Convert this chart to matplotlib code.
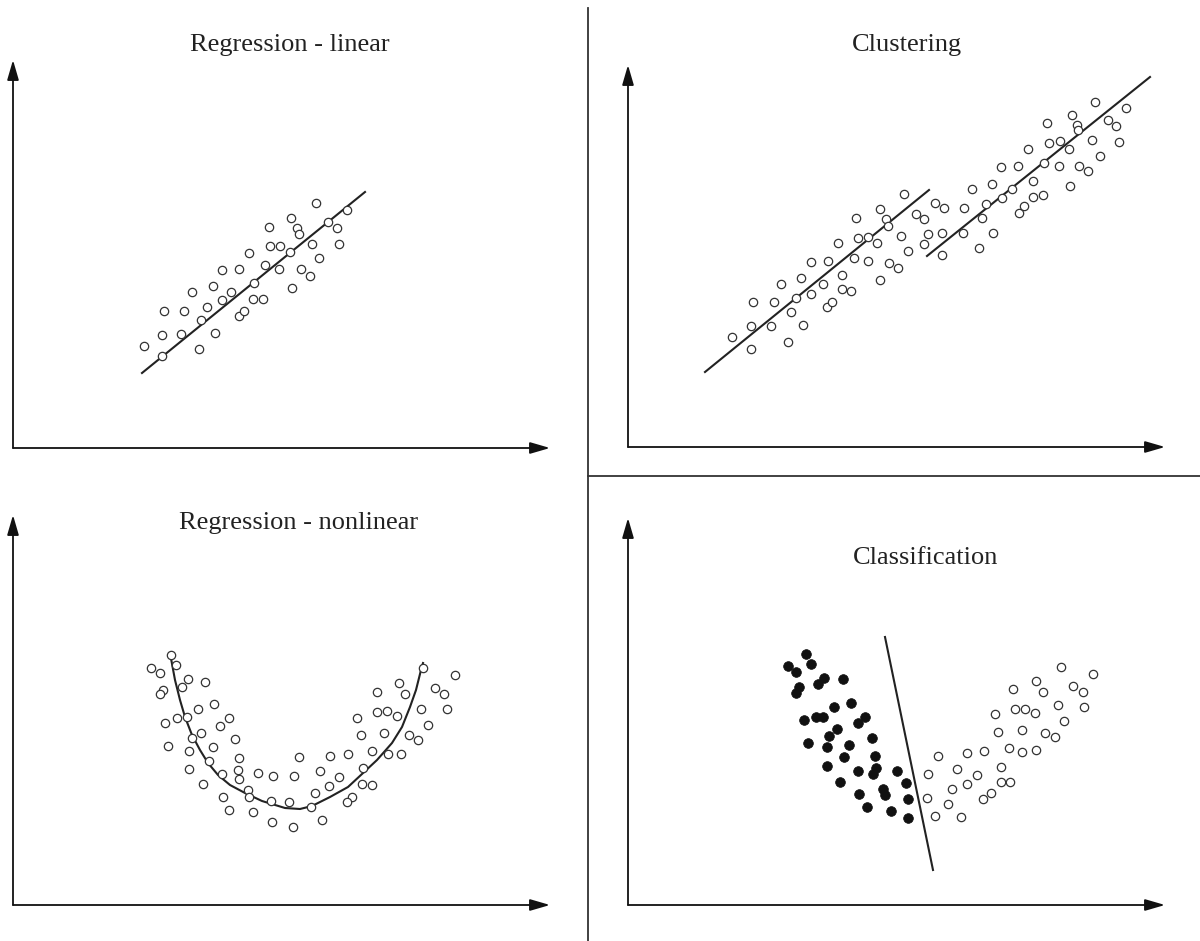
import numpy as np
import matplotlib
matplotlib.use("Agg")
import matplotlib.pyplot as plt
from matplotlib.lines import Line2D

plt.rcParams['font.family'] = ['Liberation Serif', 'DejaVu Serif']

# --- Regression - linear ---
lin_x = [131, 149, 149, 168, 151, 171, 179, 186, 188, 194, 200, 202, 209, 209, 218, 226, 226, 231, 236, 241, 240,
         250, 252, 256, 257, 267, 266, 277, 278, 279, 284, 286, 288, 297, 299, 303, 306, 315, 324, 326, 334]
lin_y = [102, 92, 113, 114, 137, 137, 156, 99, 128, 141, 162, 115, 178, 148, 156, 179, 132, 137, 195, 165, 149,
         149, 183, 221, 202, 202, 179, 196, 230, 160, 220, 214, 179, 172, 204, 245, 190, 226, 220, 204, 238]
lin_fit_x = [129, 352]
lin_fit_y = [75, 256]

# --- Clustering ---
clA_x = [104, 123, 123, 125, 143, 146, 153, 160, 163, 168, 173, 175, 183, 183, 195, 199, 204, 200, 210, 214, 214,
         223, 226, 228, 230, 240, 240, 249, 252, 252, 258, 260, 261, 270, 273, 276, 280, 288, 296, 296, 300, 307]
clA_y = [110, 98, 121, 145, 121, 145, 163, 105, 135, 149, 169, 122, 185, 153, 163, 140, 145, 186, 204, 158, 172,
         156, 189, 229, 209, 186, 210, 204, 167, 238, 228, 221, 184, 179, 211, 253, 196, 233, 228, 203, 213, 244]
clB_x = [316, 314, 314, 335, 336, 344, 351, 354, 358, 364, 365, 373, 374, 384, 390, 391, 396, 400, 405, 405,
         415, 416, 419, 421, 431, 432, 441, 442, 444, 449, 450, 451, 460, 464, 467, 472, 480, 488, 491, 498]
clB_y = [239, 214, 192, 214, 239, 258, 199, 229, 243, 263, 214, 280, 249, 258, 281, 234, 241, 298, 266, 250,
         252, 284, 324, 304, 281, 306, 298, 261, 332, 322, 317, 281, 276, 307, 345, 291, 327, 321, 305, 339]
clA_fit_x = [77, 301]
clA_fit_y = [75, 257]
clB_fit_x = [299, 522]
clB_fit_y = [191, 370]

# --- Regression - nonlinear ---
nl_x = [158, 163, 138, 147, 175, 192, 169, 150, 147, 201, 185, 216, 164, 174, 152, 207, 188, 179, 222, 155, 200,
        176, 226, 196, 286, 176, 225, 245, 260, 281, 209, 226, 190, 235, 236, 210, 258, 276, 216, 240, 259, 280,
        410, 442, 386, 422, 431, 364, 392, 408, 434, 364, 374, 384, 344, 415, 371, 348, 396, 405, 359, 375, 388,
        335, 317, 350, 307, 326, 316, 349, 359, 302, 339, 334, 298, 309]
nl_y = [250, 240, 237, 232, 226, 223, 218, 215, 211, 201, 196, 187, 187, 188, 182, 179, 172, 167, 166, 159, 158,
        154, 147, 144, 148, 136, 135, 132, 129, 129, 131, 126, 121, 115, 108, 108, 104, 103, 95, 93, 83, 78,
        237, 230, 222, 217, 211, 213, 211, 196, 196, 193, 194, 189, 187, 180, 172, 170, 170, 165, 154, 151, 151,
        151, 149, 137, 134, 128, 119, 121, 120, 112, 108, 103, 98, 85]
nl_fit_x = [157, 162, 167, 172, 179, 187, 195, 205, 217, 232, 249, 272, 287, 299, 317, 335, 349, 364, 379, 389,
            397, 403, 408, 410]
nl_fit_y = [252, 225, 205, 188, 170, 155, 142, 130, 120, 112, 104, 97, 96, 99, 108, 118, 131, 145, 162, 178,
            198, 215, 235, 242]

# --- Classification ---
cls1_x = [178, 183, 160, 168, 196, 190, 215, 171, 168, 223, 206, 237, 230, 176, 188, 195, 209, 201, 244, 180,
          221, 199, 216, 247, 199, 248, 230, 245, 269, 278, 212, 255, 257, 231, 280, 239, 263, 280]
cls1_y = [251, 241, 239, 233, 227, 221, 226, 218, 212, 202, 198, 188, 182, 185, 188, 188, 176, 169, 167, 162,
          160, 158, 148, 149, 139, 137, 134, 131, 134, 122, 123, 116, 110, 111, 106, 98, 94, 87]
cls2_x = [310, 300, 299, 307, 320, 333, 324, 329, 339, 339, 349, 356, 355, 363, 373, 373, 382, 381, 394, 408,
          370, 394, 417, 427, 367, 387, 397, 407, 385, 408, 415, 430, 436, 433, 445, 455, 456, 465]
cls2_y = [149, 131, 107, 89, 101, 88, 116, 136, 152, 121, 130, 154, 106, 112, 138, 123, 123, 157, 153, 155,
          173, 175, 172, 168, 191, 196, 196, 192, 216, 224, 213, 200, 184, 238, 219, 213, 198, 231]
sep_x = [257, 305]
sep_y = [268, 35]

W, H = 1200, 941
fig = plt.figure(figsize=(W / 100, H / 100), dpi=100)


def panel(ox, oy, tipx, tipy):
    ax = fig.add_axes([ox / W, (H - oy) / H, (tipx - ox) / W, (oy - tipy) / H])
    ax.set_xlim(0, tipx - ox)
    ax.set_ylim(0, oy - tipy)
    ax.axis('off')
    arrow = dict(arrowstyle='-|>,head_length=1.1,head_width=0.32', color='#111', lw=1.3,
                 shrinkA=0, shrinkB=0, mutation_scale=11)
    ax.annotate('', xy=(1, 0), xytext=(0, 0), xycoords='axes fraction', arrowprops=arrow)
    ax.annotate('', xy=(0, 1), xytext=(0, 0), xycoords='axes fraction', arrowprops=arrow)
    return ax


open_style = dict(ls='none', marker='o', ms=6, mfc='white', mec='#333', mew=0.9)
line_style = dict(color='#222', lw=1.5)

ax1 = panel(13, 448, 550, 60)
ax1.plot(lin_fit_x, lin_fit_y, **line_style)
ax1.plot(lin_x, lin_y, **open_style)

ax2 = panel(628, 447, 1165, 65)
ax2.plot(clA_fit_x, clA_fit_y, **line_style)
ax2.plot(clB_fit_x, clB_fit_y, **line_style)
ax2.plot(clA_x, clA_y, **open_style)
ax2.plot(clB_x, clB_y, **open_style)

ax3 = panel(13, 905, 550, 515)
ax3.plot(nl_fit_x, nl_fit_y, **line_style)
ax3.plot(nl_x, nl_y, **open_style)

ax4 = panel(628, 905, 1165, 518)
ax4.plot(sep_x, sep_y, **line_style)
ax4.plot(cls1_x, cls1_y, ls='none', marker='o', ms=7, mfc='#111', mec='#111', mew=0.5)
ax4.plot(cls2_x, cls2_y, **open_style)

# dividers
fig.add_artist(Line2D([588 / W, 588 / W], [0, 1 - 8 / H], transform=fig.transFigure, color='#333', lw=1.3))
fig.add_artist(Line2D([588 / W, 1], [1 - 476 / H, 1 - 476 / H], transform=fig.transFigure, color='#333', lw=1.3))

title_kw = dict(ha='center', va='center', fontsize=19, color='#222')
fig.text(290 / W, 1 - 45 / H, 'Regression - linear', **title_kw)
fig.text(907 / W, 1 - 45 / H, 'Clustering', **title_kw)
fig.text(299 / W, 1 - 523 / H, 'Regression - nonlinear', **title_kw)
fig.text(926 / W, 1 - 558 / H, 'Classification', **title_kw)

fig.savefig('out.png', dpi=100, facecolor='white')
